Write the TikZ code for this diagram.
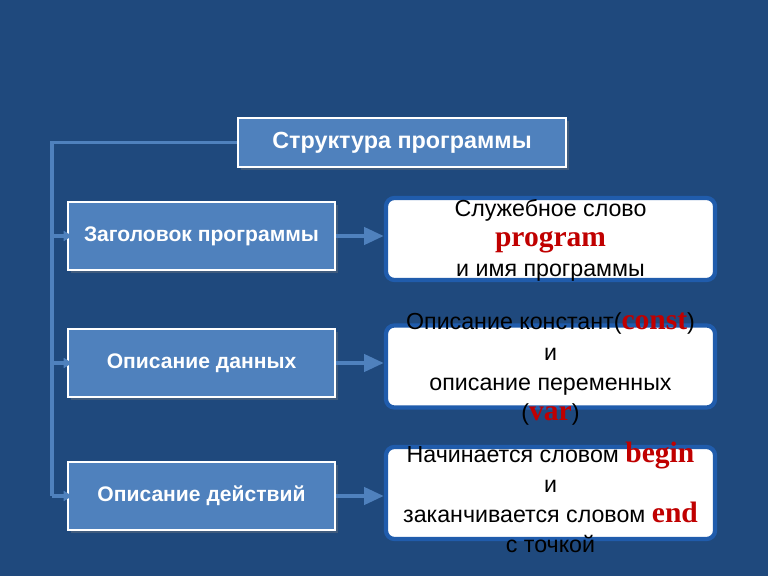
\documentclass[tikz,border=0pt]{standalone}
\usepackage{fontspec}
\setmainfont{Liberation Sans}
\newfontfamily\kwfamily{Liberation Serif}
\usepackage{tikz}
\usetikzlibrary{arrows.meta, positioning, shadows}
\definecolor{bgblue}{RGB}{31,73,125}
\definecolor{boxblue}{RGB}{79,129,189}
\definecolor{rimblue}{RGB}{32,92,172}
\definecolor{kwred}{RGB}{192,0,0}
% keyword of the language
\newcommand{\kw}[1]{{\kwfamily\bfseries\fontsize{21}{21}\selectfont\color{kwred}#1}}

\begin{document}
\begin{tikzpicture}[x=0.025cm, y=-0.025cm,
    part/.style={draw=white, line width=2pt, fill=boxblue, text=white,
      font=\bfseries\fontsize{15}{17}\selectfont, inner sep=0pt,
      minimum width=6.675cm, minimum height=1.7cm,
      drop shadow={opacity=0.35, shadow xshift=2pt, shadow yshift=-2pt}},
    note/.style={draw=rimblue, line width=3pt, fill=white, rounded corners=6pt,
      minimum width=8.225cm, minimum height=2.05cm, inner sep=0pt},
    notetext/.style={align=center, text=black, font=\fontsize{16.5}{21.5}\selectfont},
    link/.style={draw=boxblue, line width=2.5pt},
    >={Triangle[length=14pt, width=12pt]}]

    \fill[bgblue] (0,0) rectangle (768,576);

    \node[part, minimum width=8.2cm, minimum height=1.225cm,
      font=\bfseries\fontsize{16.6}{19}\selectfont] (title) at (402,142.5) {Структура программы};

    \node[part] (hdr)  at (201.5,236) {Заголовок программы};
    \node[part] (data) at (201.5,363) {Описание данных};
    \node[part] (act)  at (201.5,496) {Описание действий};

    \node[note] (hdrnote)  at (550.5,239) {};
    \node[note] (datanote) at (550.5,366.5) {};
    \node[note, minimum height=2.3cm] (actnote) at (550.5,493) {};

    \node[notetext] (hdrtext) at ([yshift=-1pt]hdrnote.center)
      {Служебное слово\\\kw{program}\\и имя программы};
    \node[notetext] (datatext) at ([yshift=-2pt]datanote.center)
      {Описание констант(\kw{const})\\и\\описание переменных\\(\kw{var})};
    \node[notetext] (acttext) at ([yshift=-3pt]actnote.center)
      {Начинается словом \kw{begin}\\и\\заканчивается словом \kw{end}\\с точкой};

    % trunk on the left
    \coordinate (trunk) at (52,142.5);
    \draw[link] (title.west) -- (trunk) -- (trunk |- act.west);
    \foreach \p in {hdr, data, act}
        \draw[link, -{Triangle[length=6pt, width=7pt]}, shorten >=-4pt]
            (trunk |- \p.west) -- (\p.west);

    \foreach \p in {hdr, data, act}
        \draw[link, line width=3pt, ->] (\p.east) -- (\p.east -| \p note.west);
  \end{tikzpicture}
\end{document}
